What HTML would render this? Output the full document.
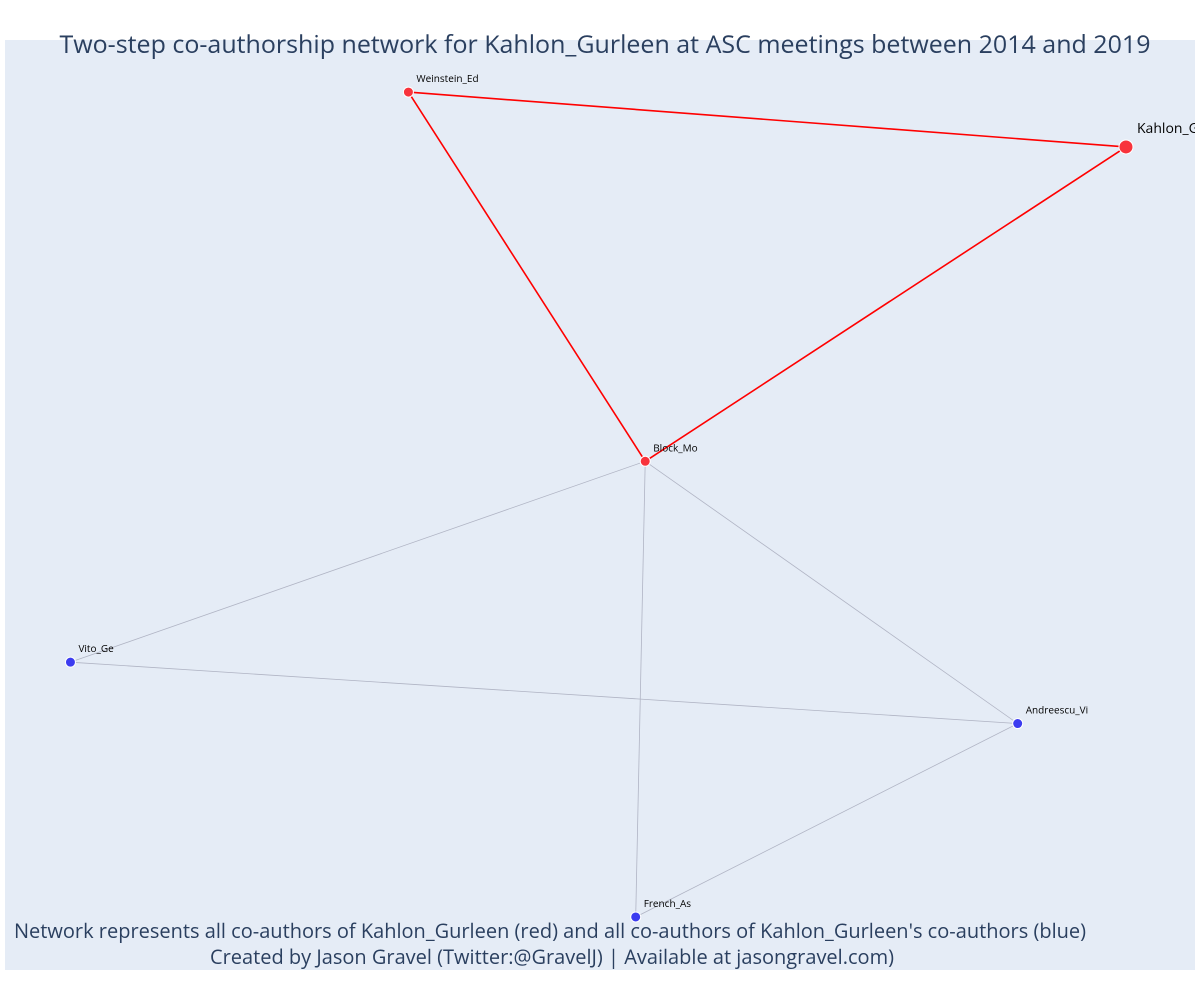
<!DOCTYPE html>
<html><head><meta charset="utf-8"><style>
body{margin:0;background:#fff;}
svg{display:block;font-family:"Open Sans","Liberation Sans",sans-serif;}
</style></head><body>
<svg id="chart" width="1200" height="1000" xmlns="http://www.w3.org/2000/svg">
<defs><clipPath id="plotclip"><rect x="5" y="40" width="1190" height="930"/></clipPath></defs>
<rect x="5" y="40" width="1190" height="930" fill="#e5ecf6"/>
<g id="edges" clip-path="url(#plotclip)"></g>
<g id="nodes" clip-path="url(#plotclip)"></g>
<text x="605" y="53" text-anchor="middle" font-size="25" fill="#2a3f5f">Two-step co-authorship network for Kahlon_Gurleen at ASC meetings between 2014 and 2019</text>
<text x="550" y="938" text-anchor="middle" font-size="20" fill="#2a3f5f">Network represents all co-authors of Kahlon_Gurleen (red) and all co-authors of Kahlon_Gurleen's co-authors (blue)</text>
<text x="552" y="964" text-anchor="middle" font-size="20" fill="#2a3f5f">Created by Jason Gravel (Twitter:@GravelJ) | Available at jasongravel.com)</text>
</svg>
<script>
const names = ["Weinstein_Ed","Kahlon_Gurleen","Block_Mo","Vito_Ge","Andreescu_Vi","French_As"];
const xs = [33.9, 94.2, 53.8, 5.5, 85.1, 53.0];
const ys = [94.4, 88.5, 54.7, 33.1, 26.5, 5.7];
const groups = ["red","focal","red","blue","blue","blue"];
const edgeFrom = [0,0,1,2,2,2,3,4];
const edgeTo   = [1,2,2,3,5,4,4,5];
const edgeType = ["red","red","red","gray","gray","gray","gray","gray"];
const NS="http://www.w3.org/2000/svg";
function sx(v){return 5+v/100*1190;}
function sy(v){return 40+(100-v)/100*930;}
const eg=document.getElementById('edges'), ng=document.getElementById('nodes');
for(let i=0;i<edgeFrom.length;i++){
  const l=document.createElementNS(NS,'line');
  l.setAttribute('x1',sx(xs[edgeFrom[i]]));l.setAttribute('y1',sy(ys[edgeFrom[i]]));
  l.setAttribute('x2',sx(xs[edgeTo[i]]));l.setAttribute('y2',sy(ys[edgeTo[i]]));
  l.setAttribute('stroke',edgeType[i]==='red'?'#ff0000':'#b0b4c4');
  l.setAttribute('stroke-width',edgeType[i]==='red'?1.6:0.8);
  
  
  eg.appendChild(l);
}
for(let i=0;i<names.length;i++){
  const c=document.createElementNS(NS,'circle');
  const big=groups[i]==='focal';
  c.setAttribute('cx',sx(xs[i]));c.setAttribute('cy',sy(ys[i]));
  c.setAttribute('r',big?7:5);
  c.setAttribute('fill',groups[i]==='blue'?'#3c3cf0':'#f8333c');
  c.setAttribute('stroke','#fff');c.setAttribute('stroke-width',1);
  
  
  ng.appendChild(c);
  const t=document.createElementNS(NS,'text');
  t.setAttribute('x',sx(xs[i])+(big?11:8));t.setAttribute('y',sy(ys[i])-(big?14:10));
  t.setAttribute('font-size',big?14:10);
  t.setAttribute('fill','#000');
  t.textContent=names[i];
  
  
  ng.appendChild(t);
}
</script>
</body></html>
